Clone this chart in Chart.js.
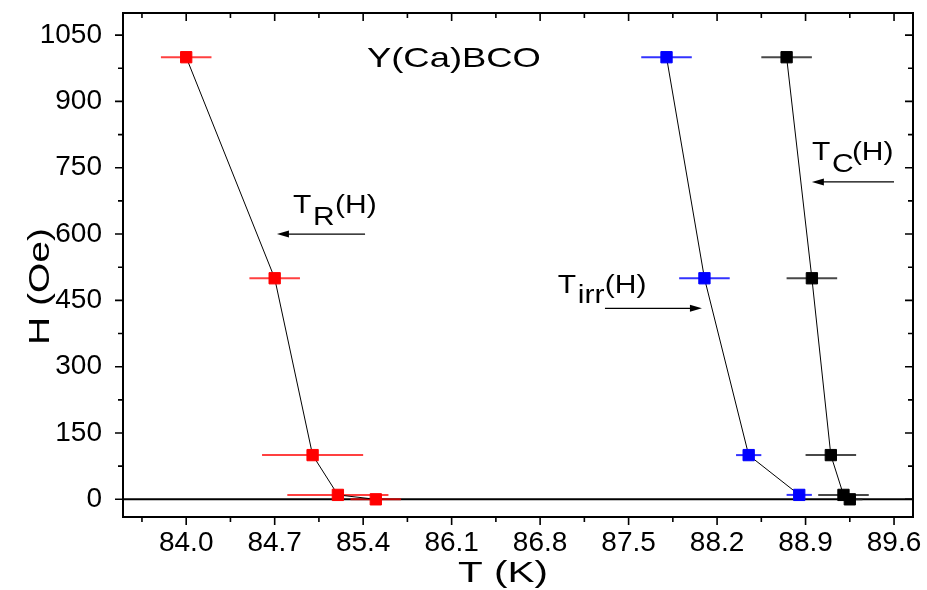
<!DOCTYPE html>
<html>
<head>
<meta charset="utf-8">
<script src="https://cdn.jsdelivr.net/npm/chart.js"></script>
<style>
  html, body { margin: 0; padding: 0; background: #fff; }
  #wrap { width: 927px; height: 590px; }
</style>
</head>
<body>
<div id="wrap"><canvas id="hChart" width="927" height="590"></canvas></div>
<script>
// T_R(H): field (Oe), temperature (K), +/- error (K)
const fieldR = [1000, 500, 100, 10, 0]
const tempR = [84.0, 84.7, 85.0, 85.2, 85.5]
const errR = [0.2, 0.2, 0.4, 0.4, 0.2]

// T_irr(H)
const fieldIrr = [1000, 500, 100, 10]
const tempIrr = [87.8, 88.1, 88.45, 88.85]
const errIrr = [0.2, 0.2, 0.1, 0.1]

// T_c(H)
const fieldC = [1000, 500, 100, 10, 0]
const tempC = [88.75, 88.95, 89.1, 89.2, 89.25]
const errC = [0.2, 0.2, 0.2, 0.2, 0.1]

const xTicks = [84.0, 84.7, 85.4, 86.1, 86.8, 87.5, 88.2, 88.9, 89.6]
const yTicks = [0, 150, 300, 450, 600, 750, 900, 1050]

const FONT = '"Liberation Sans", Arial, sans-serif'

function points(xs, ys) {
  return xs.map((x, i) => ({ x: x, y: ys[i] }))
}

function series(label, xs, ys, errs, color, barColor) {
  return {
    label: label,
    data: points(xs, ys),
    xErr: errs,
    barColor: barColor,
    showLine: true,
    borderColor: "#000",
    borderWidth: 1,
    pointStyle: "rect",
    pointRadius: 8,
    pointBackgroundColor: color,
    pointBorderColor: color,
    pointBorderWidth: 1,
  }
}

// stretched text helper (the original lettering is wide)
function wideText(ctx, str, x, y, size, sx) {
  ctx.save()
  ctx.font = size + "px " + FONT
  ctx.fillStyle = "#000"
  ctx.textBaseline = "alphabetic"
  ctx.textAlign = "left"
  ctx.translate(x, y)
  ctx.scale(sx, 1)
  ctx.fillText(str, 0, 0)
  ctx.restore()
}

function arrow(ctx, x1, y, x2) {
  const dir = x2 > x1 ? 1 : -1
  ctx.save()
  ctx.strokeStyle = "#000"
  ctx.fillStyle = "#000"
  ctx.lineWidth = 1.3
  ctx.beginPath()
  ctx.moveTo(x1, y)
  ctx.lineTo(x2 - dir * 6, y)
  ctx.stroke()
  ctx.beginPath()
  ctx.moveTo(x2, y)
  ctx.lineTo(x2 - dir * 12, y - 3.5)
  ctx.lineTo(x2 - dir * 12, y + 3.5)
  ctx.closePath()
  ctx.fill()
  ctx.restore()
}

// annotation anchors in data units
const notes = [
  { x: 84.845, y: 648, main: "T", sub: "R", subDx: 20, tailDx: 42, subDy: 12, arrow: [85.415, 84.718, 600] },
  { x: 86.94, y: 467, main: "T", sub: "irr", subDx: 20, tailDx: 47, subDy: 10, arrow: [87.313, 88.08, 432] },
  { x: 88.95, y: 767, main: "T", sub: "C", subDx: 20, tailDx: 40, subDy: 12, arrow: [89.6, 88.95, 718] },
]

const framePlugin = {
  id: "frame",
  beforeDatasetsDraw(chart) {
    const ctx = chart.ctx
    const xs = chart.scales.x
    const ys = chart.scales.y
    const area = chart.chartArea
    // zero line
    const y0 = ys.getPixelForValue(0)
    ctx.save()
    ctx.strokeStyle = "#000"
    ctx.lineWidth = 2
    ctx.beginPath()
    ctx.moveTo(area.left, y0)
    ctx.lineTo(area.right, y0)
    ctx.stroke()
    // horizontal error bars
    chart.data.datasets.forEach(ds => {
      ctx.strokeStyle = ds.barColor
      ctx.lineWidth = 2
      ds.data.forEach((p, j) => {
        const py = ys.getPixelForValue(p.y)
        ctx.beginPath()
        ctx.moveTo(xs.getPixelForValue(p.x - ds.xErr[j]), py)
        ctx.lineTo(xs.getPixelForValue(p.x + ds.xErr[j]), py)
        ctx.stroke()
      })
    })
    ctx.restore()
  },
  afterDraw(chart) {
    const ctx = chart.ctx
    const xs = chart.scales.x
    const ys = chart.scales.y
    const a = chart.chartArea
    ctx.save()
    ctx.strokeStyle = "#000"
    ctx.lineWidth = 2
    ctx.strokeRect(a.left, a.top, a.right - a.left, a.bottom - a.top)

    const major = 8
    const minor = 5
    ctx.lineWidth = 1.6
    const xStep = xTicks[1] - xTicks[0]
    const xMarks = []
    xTicks.forEach(v => {
      xMarks.push([v, major])
      xMarks.push([v - xStep / 2, minor])
    })
    xMarks.push([xTicks[xTicks.length - 1] + xStep / 2, minor])
    xMarks.forEach(([v, len]) => {
      if (v < xs.min || v > xs.max) return
      const px = xs.getPixelForValue(v)
      ctx.beginPath()
      ctx.moveTo(px, a.bottom)
      ctx.lineTo(px, a.bottom + len)
      ctx.moveTo(px, a.top)
      ctx.lineTo(px, a.top + len)
      ctx.stroke()
    })
    const yStep = yTicks[1] - yTicks[0]
    const yMarks = []
    yTicks.forEach(v => {
      yMarks.push([v, major])
      yMarks.push([v - yStep / 2, minor])
    })
    yMarks.push([yTicks[yTicks.length - 1] + yStep / 2, minor])
    yMarks.forEach(([v, len]) => {
      if (v < ys.min || v > ys.max) return
      const py = ys.getPixelForValue(v)
      ctx.beginPath()
      ctx.moveTo(a.left, py)
      ctx.lineTo(a.left - len, py)
      ctx.moveTo(a.right, py)
      ctx.lineTo(a.right - len, py)
      ctx.stroke()
    })
    ctx.restore()

    // annotations
    notes.forEach(n => {
      const px = xs.getPixelForValue(n.x)
      const py = ys.getPixelForValue(n.y)
      wideText(ctx, n.main, px, py, 25, 1.2)
      wideText(ctx, n.sub, px + n.subDx, py + n.subDy, 25, 1.2)
      wideText(ctx, "(H)", px + n.tailDx, py, 25, 1.2)
      const [ax1, ax2, ay] = n.arrow
      arrow(ctx, xs.getPixelForValue(ax1), ys.getPixelForValue(ay), xs.getPixelForValue(ax2))
    })
    wideText(ctx, "Y(Ca)BCO", xs.getPixelForValue(85.43), ys.getPixelForValue(977), 28, 1.3)

    // axis titles
    wideText(ctx, "T (K)", 458, 582, 30, 1.35)
    ctx.save()
    ctx.translate(49, 345)
    ctx.rotate(-Math.PI / 2)
    wideText(ctx, "H (Oe)", 0, 0, 30, 1.3)
    ctx.restore()
  },
}

const chart = new Chart(document.getElementById("hChart"), {
  type: "scatter",
  data: {
    datasets: [
      series("T_R(H)", tempR, fieldR, errR, "#ff0000", "rgba(255,0,0,0.75)"),
      series("T_irr(H)", tempIrr, fieldIrr, errIrr, "#0000ff", "rgba(0,0,255,0.8)"),
      series("T_c(H)", tempC, fieldC, errC, "#000000", "rgba(40,40,40,0.85)"),
    ],
  },
  options: {
    responsive: false,
    animation: false,
    layout: { padding: { left: 0, top: 13, right: 14, bottom: 0 } },
    plugins: { legend: { display: false }, tooltip: { enabled: false } },
    scales: {
      x: {
        type: "linear",
        min: 83.5,
        max: 89.75,
        afterBuildTicks: s => { s.ticks = xTicks.map(v => ({ value: v })) },
        afterFit: s => {
          s.height = 73
          s.paddingLeft = 0
          s.paddingRight = 0
        },
        ticks: {
          callback: v => v.toFixed(1),
          font: { family: FONT, size: 28 },
          color: "#000",
          padding: 1,
          maxRotation: 0,
          autoSkip: false,
        },
        grid: { display: false, drawTicks: true, tickLength: 8 },
        border: { display: false },
      },
      y: {
        type: "linear",
        min: -40,
        max: 1100,
        afterBuildTicks: s => { s.ticks = yTicks.map(v => ({ value: v })) },
        afterFit: s => {
          s.width = 123
          s.paddingTop = 0
          s.paddingBottom = 0
        },
        ticks: {
          callback: v => String(v),
          font: { family: FONT, size: 28 },
          color: "#000",
          padding: 13,
          autoSkip: false,
        },
        grid: { display: false, drawTicks: true, tickLength: 8 },
        border: { display: false },
      },
    },
  },
  plugins: [framePlugin],
})
</script>
</body>
</html>
